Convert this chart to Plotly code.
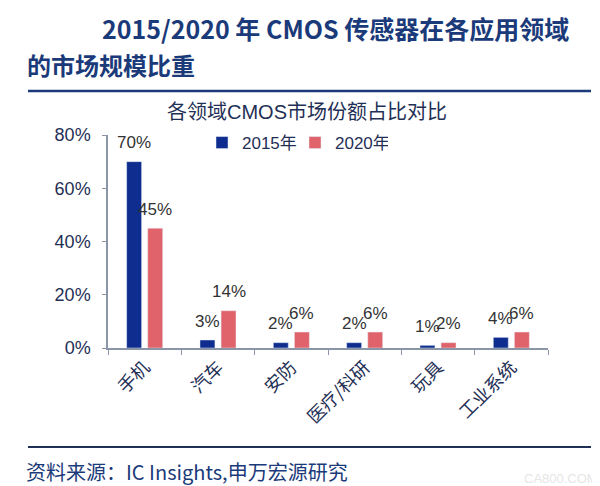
import plotly.graph_objects as go

categories = ["手机", "汽车", "安防", "医疗/科研", "玩具", "工业系统"]
share_2015 = [70, 3, 2, 2, 1, 4]
share_2020 = [45, 14, 6, 6, 2, 6]
y_ticks = [0, 20, 40, 60, 80]
y_tick_text = ["0%", "20%", "40%", "60%", "80%"]

W, H = 600, 486
L, R, T, B = 100, 60, 127, 146
PW, PH = W - L - R, H - T - B

def px(x):
    return (x - L) / PW

def py(y):
    return (H - B - y) / PH

navy = "#1F2F55"
title_blue = "#1B3A7A"
font_lat = "Liberation Sans, Arial, Noto Sans CJK SC, sans-serif"
font_cjk = "Noto Sans CJK SC, sans-serif"

fig = go.Figure()
fig.add_bar(x=categories, y=share_2015, name="2015年", marker_color="#0E2D8E")
fig.add_bar(x=categories, y=share_2020, name="2020年", marker_color="#E0636B")

fig.update_layout(
    width=W, height=H,
    margin=dict(l=L, r=R, t=T, b=B, autoexpand=False),
    paper_bgcolor="white", plot_bgcolor="white",
    barmode="group", bargap=0.425, bargroupgap=0.29,
    showlegend=True,
    legend=dict(orientation="h", x=px(194), y=py(135), xanchor="left", yanchor="middle",
                font=dict(size=17, color=navy, family=font_lat), bgcolor="rgba(0,0,0,0)",
                itemwidth=30, tracegroupgap=0, entrywidth=48, entrywidthmode="pixels"),
    xaxis=dict(showline=True, linecolor="#8A96A8", linewidth=1.5, ticks="outside",
               tickson="boundaries", ticklen=5, tickcolor="#8A96A8", tickangle=-45,
               tickfont=dict(size=18, color=navy, family=font_cjk), showgrid=False,
               range=[-0.5, 5.5], automargin=False),
    yaxis=dict(range=[0, 80], tickvals=y_ticks, ticktext=y_tick_text, showline=True,
               linecolor="#8A96A8", linewidth=1.5, ticks="outside", ticklen=4,
               tickcolor="#8A96A8", tickfont=dict(size=18, color=navy, family=font_lat),
               ticklabelstandoff=8,
               showgrid=False, zeroline=False, automargin=False),
)

annotations = [
    dict(text="<b>2015/2020 年 CMOS 传感器在各应用领域</b>", x=px(327), y=py(20),
         xanchor="center", yanchor="middle", font=dict(size=25, color=title_blue, family=font_cjk)),
    dict(text="<b>的市场规模比重</b>", x=px(17), y=py(57),
         xanchor="left", yanchor="middle", font=dict(size=24, color=title_blue, family=font_cjk)),
    dict(text="各领域CMOS市场份额占比对比", x=px(299), y=py(104),
         xanchor="center", yanchor="middle", font=dict(size=20, color=navy, family=font_lat)),
    dict(text="资料来源：IC Insights,申万宏源研究", x=px(16), y=py(463),
         xanchor="left", yanchor="middle", font=dict(size=20, color=title_blue, family=font_cjk)),
    dict(text="CA800.COM", x=px(592), y=py(470), xanchor="right", yanchor="middle",
         font=dict(size=13, color="#E6E6E6", family=font_lat)),
]
for a in annotations:
    a.update(xref="paper", yref="paper", showarrow=False)

# value labels above each bar (centered on the bar, lifted above its top)
bar_offset = 10.5
for series, dx in ((share_2015, -bar_offset), (share_2020, bar_offset)):
    for cat, v in zip(categories, series):
        annotations.append(dict(x=cat, y=v, xref="x", yref="y", text=f"{v}%",
                                showarrow=False, xshift=dx, yshift=19,
                                xanchor="center", yanchor="middle",
                                font=dict(size=17, color="#333333", family=font_lat)))
fig.update_layout(annotations=annotations)

fig.add_shape(type="line", xref="paper", yref="paper", x0=px(20), x1=px(583),
              y0=py(83), y1=py(83), line=dict(color=title_blue, width=2.5))
fig.add_shape(type="line", xref="paper", yref="paper", x0=px(20), x1=px(583),
              y0=py(439), y1=py(439), line=dict(color=navy, width=2))

fig.write_html("out.html")
